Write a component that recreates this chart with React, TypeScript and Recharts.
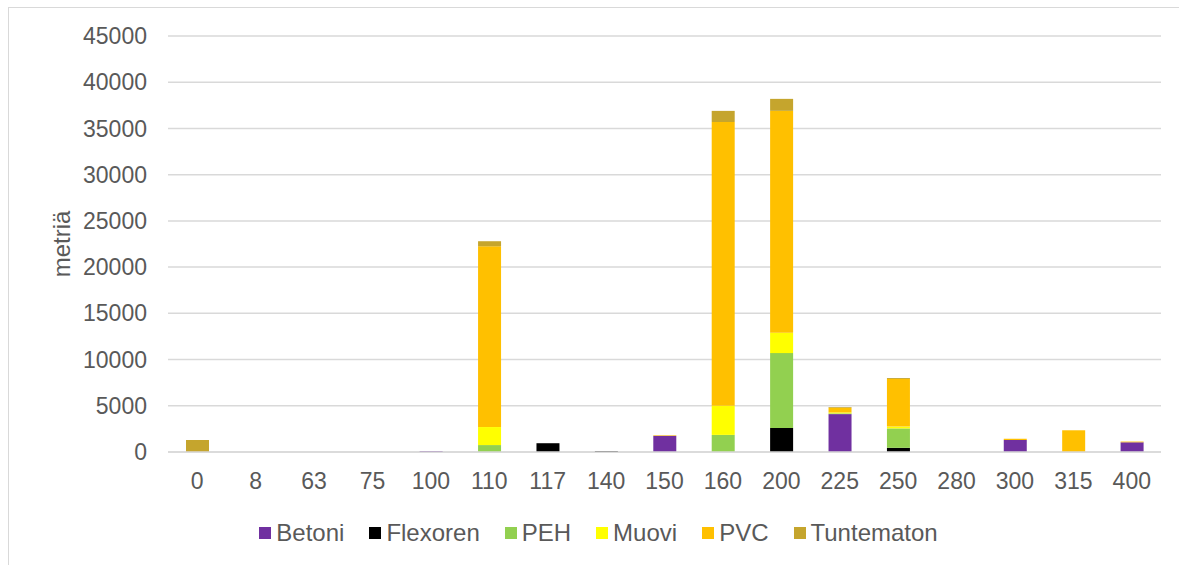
import React from 'react';
import { BarChart, Bar, XAxis, YAxis, CartesianGrid, Legend } from 'recharts';

const categories = ['0', '8', '63', '75', '100', '110', '117', '140', '150', '160', '200', '225', '250', '280', '300', '315', '400'];
const betoni = [0, 0, 0, 0, 100, 0, 0, 0, 1750, 0, 0, 4100, 0, 0, 1300, 0, 1050];
const flexoren = [0, 0, 0, 0, 0, 0, 950, 100, 0, 0, 2600, 0, 450, 0, 0, 0, 0];
const peh = [0, 0, 0, 0, 0, 750, 0, 0, 0, 1850, 8100, 80, 2100, 0, 0, 0, 0];
const muovi = [0, 0, 0, 0, 0, 1950, 0, 0, 0, 3150, 2200, 100, 200, 0, 0, 0, 0];
const pvc = [0, 0, 0, 0, 0, 19550, 0, 0, 60, 30700, 24000, 500, 5150, 0, 120, 2350, 80];
const tuntematon = [1300, 0, 0, 0, 0, 550, 0, 0, 0, 1200, 1300, 80, 100, 0, 0, 0, 0];
const yTicks = [0, 5000, 10000, 15000, 20000, 25000, 30000, 35000, 40000, 45000];

const series = [
  { key: 'Betoni', values: betoni, color: '#7030a0' },
  { key: 'Flexoren', values: flexoren, color: '#000000' },
  { key: 'PEH', values: peh, color: '#92d050' },
  { key: 'Muovi', values: muovi, color: '#ffff00' },
  { key: 'PVC', values: pvc, color: '#ffc000' },
  { key: 'Tuntematon', values: tuntematon, color: '#c5a52d' },
];

const data = categories.map((c, i) => {
  const row: Record<string, string | number> = { name: c };
  series.forEach((s) => {
    row[s.key] = s.values[i];
  });
  return row;
});

const FONT = '"Liberation Sans", Arial, sans-serif';
const TEXT = '#595959';

const YLabel = ({ viewBox }: any) => {
  const cy = viewBox.y + viewBox.height / 2;
  return (
    <text
      x={61}
      y={cy}
      transform={`rotate(-90, 61, ${cy})`}
      textAnchor="middle"
      dominantBaseline="central"
      fill={TEXT}
      fontSize={24}
      fontFamily={FONT}
    >
      metriä
    </text>
  );
};

const LegendContent = () => (
  <div
    style={{
      display: 'flex',
      justifyContent: 'center',
      alignItems: 'center',
      fontFamily: FONT,
      fontSize: 24,
      lineHeight: '30px',
      color: TEXT,
      paddingLeft: 36,
    }}
  >
    {series.map((s, i) => (
      <div key={s.key} style={{ display: 'flex', alignItems: 'center', marginRight: i === series.length - 1 ? 0 : 25 }}>
        <span style={{ width: 12, height: 12, background: s.color, marginRight: 5, display: 'inline-block' }} />
        <span>{s.key}</span>
      </div>
    ))}
  </div>
);

export default function App() {
  return (
    <div style={{ position: 'absolute', left: 0, top: 0, width: 1179, height: 565, overflow: 'hidden', background: '#fff' }}>
      <div
        style={{
          position: 'absolute',
          left: 8,
          top: 7,
          width: 1200,
          height: 600,
          border: '1px solid #d9d9d9',
        }}
      />
      <BarChart
        width={1179}
        height={565}
        data={data}
        margin={{ top: 36, right: 18, left: 0, bottom: 17 }}
        barSize={23}
        style={{ fontFamily: FONT }}
      >
        <CartesianGrid vertical={false} stroke="#d9d9d9" strokeWidth={1.5} />
        <XAxis
          dataKey="name"
          height={66}
          tickLine={false}
          tickSize={0}
          tickMargin={21}
          axisLine={{ stroke: '#d9d9d9', strokeWidth: 1.5 }}
          tick={{ fill: TEXT, fontSize: 23, fontFamily: FONT }}
          interval={0}
        />
        <YAxis
          width={168}
          domain={[0, 45000]}
          ticks={yTicks}
          axisLine={false}
          tickLine={false}
          tickSize={0}
          tickMargin={21}
          tick={{ fill: TEXT, fontSize: 23, fontFamily: FONT }}
          label={<YLabel />}
        />
        <Legend verticalAlign="bottom" content={<LegendContent />} />
        {series.map((s) => (
          <Bar key={s.key} dataKey={s.key} stackId="a" fill={s.color} isAnimationActive={false} />
        ))}
      </BarChart>
    </div>
  );
}
